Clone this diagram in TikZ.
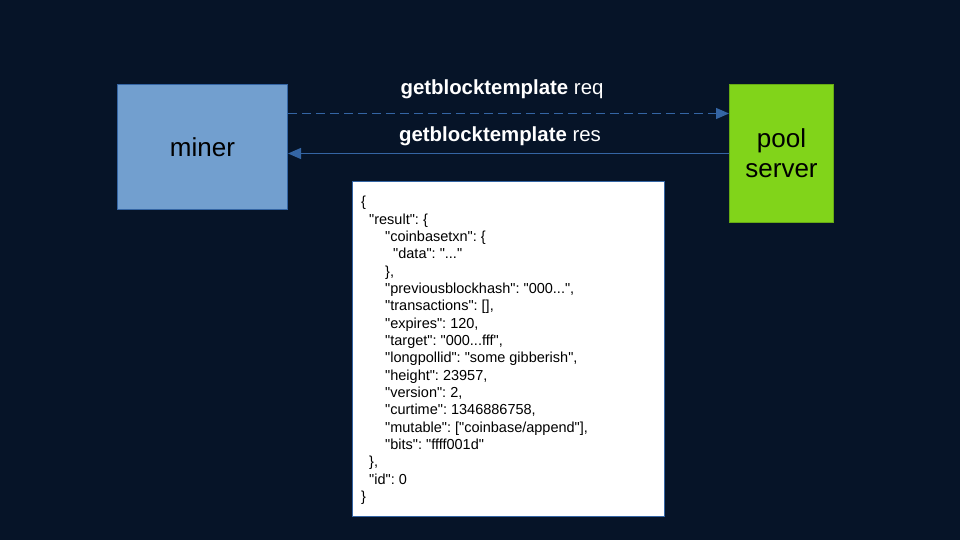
\documentclass[tikz,border=0pt]{standalone}
\usepackage{fontspec}
\setmainfont{Liberation Sans}
\newfontfamily\jsonfont{Liberation Sans}[Ligatures=TeXOff]
\usetikzlibrary{arrows.meta}
\definecolor{bg}{HTML}{061428}
\definecolor{minerfill}{HTML}{729FCF}
\definecolor{minerdraw}{HTML}{3465A4}
\definecolor{poolfill}{HTML}{81D41A}
\definecolor{arrowc}{HTML}{3465A4}
\frenchspacing
\begin{document}
\begin{tikzpicture}[x=1pt,y=-1pt,
  box/.style={draw=minerdraw, line width=1pt, inner sep=0pt, anchor=north west},
  conn/.style={draw=arrowc, line width=1.2pt, -{Triangle[length=13pt,width=11pt]}},
  lbl/.style={text=white, font=\fontsize{20.4}{24}\selectfont, inner sep=0pt}]
\fill[bg] (0,0) rectangle (960,540);
\useasboundingbox (0,0) rectangle (960,540);
\node[box, fill=minerfill, minimum width=170pt, minimum height=125pt,
  font=\fontsize{26}{30}\selectfont] (miner) at (117,84) {miner};
\node[box, fill=poolfill, draw=poolfill!80!black, minimum width=104pt, minimum height=138pt,
  align=center, font=\fontsize{26}{30}\selectfont] (pool) at (729,84) {pool\\server};
\draw[conn, dash pattern=on 9pt off 5pt] (miner.east) ++(0,-33.5) coordinate (reqs) -- (reqs -| pool.west);
\draw[conn] (pool.west) -- (pool.west -| miner.east);
\node[lbl] (reqlbl) at (502,89.5) {\textbf{getblocktemplate} req};
\node[lbl] (reslbl) at (500,136.5) {\textbf{getblocktemplate} res};
\node[box, fill=white, minimum width=312pt, minimum height=335pt] (json) at (352,181) {};
\node[anchor=north west, inner sep=0pt, align=left, font=\jsonfont\fontsize{14.5}{17.35}\selectfont] (jsontext) at (361,196) {%
\{\\
\hspace*{8pt}"result": \{\\
\hspace*{24pt}"coinbasetxn": \{\\
\hspace*{32pt}"data": "..."\\
\hspace*{24pt}\},\\
\hspace*{24pt}"previousblockhash": "000...",\\
\hspace*{24pt}"transactions": [],\\
\hspace*{24pt}"expires": 120,\\
\hspace*{24pt}"target": "000...fff",\\
\hspace*{24pt}"longpollid": "some gibberish",\\
\hspace*{24pt}"height": 23957,\\
\hspace*{24pt}"version": 2,\\
\hspace*{24pt}"curtime": 1346886758,\\
\hspace*{24pt}"mutable": ["coinbase/append"],\\
\hspace*{24pt}"bits": "ffff001d"\\
\hspace*{8pt}\},\\
\hspace*{8pt}"id": 0\\
\}};
\end{tikzpicture}
\end{document}
